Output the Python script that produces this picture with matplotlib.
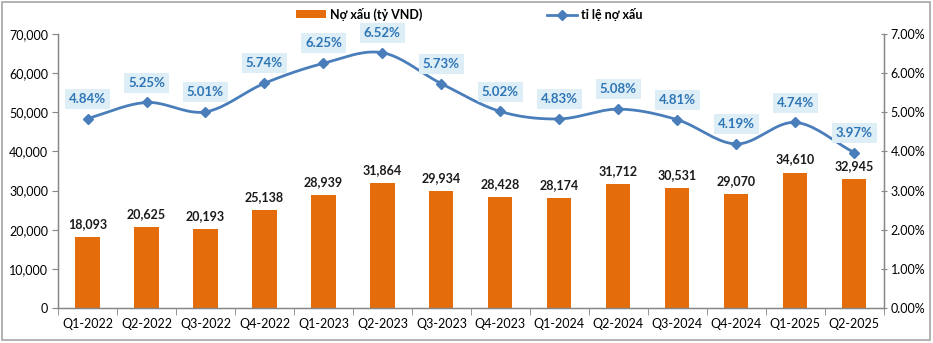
import matplotlib.pyplot as plt
import numpy as np
from matplotlib.lines import Line2D
from matplotlib.patches import Patch, Rectangle
from matplotlib.ticker import FuncFormatter, MultipleLocator

quarters = ["Q1-2022", "Q2-2022", "Q3-2022", "Q4-2022", "Q1-2023", "Q2-2023", "Q3-2023",
            "Q4-2023", "Q1-2024", "Q2-2024", "Q3-2024", "Q4-2024", "Q1-2025", "Q2-2025"]
bad_debt = [18093, 20625, 20193, 25138, 28939, 31864, 29934,
            28428, 28174, 31712, 30531, 29070, 34610, 32945]
bad_debt_ratio = [4.84, 5.25, 5.01, 5.74, 6.25, 6.52, 5.73,
                  5.02, 4.83, 5.08, 4.81, 4.19, 4.74, 3.97]

BAR_COLOR = "#E46C0A"
LINE_COLOR = "#4A7EBB"
LABEL_COLOR = "#2E75B6"
BOX_COLOR = "#DDEEF6"
AXIS_COLOR = "#868686"

plt.rcParams['font.family'] = ['Lato', 'DejaVu Sans']


def smooth_curve(x, y, steps=20):
    # catmull-rom style smoothing, similar to a spreadsheet smoothed line
    x = np.asarray(x, float)
    y = np.asarray(y, float)
    px = np.concatenate([[2 * x[0] - x[1]], x, [2 * x[-1] - x[-2]]])
    py = np.concatenate([[2 * y[0] - y[1]], y, [2 * y[-1] - y[-2]]])
    xs, ys = [], []
    for i in range(1, len(px) - 2):
        t = np.linspace(0, 1, steps, endpoint=False)
        for p, out in ((px, xs), (py, ys)):
            p0, p1, p2, p3 = p[i - 1], p[i], p[i + 1], p[i + 2]
            out.extend(0.5 * ((2 * p1) + (-p0 + p2) * t + (2 * p0 - 5 * p1 + 4 * p2 - p3) * t ** 2
                              + (-p0 + 3 * p1 - 3 * p2 + p3) * t ** 3))
    xs.append(x[-1])
    ys.append(y[-1])
    return np.array(xs), np.array(ys)


def do_plot():
    fig = plt.figure(figsize=(9.33, 3.43), dpi=100)
    ax = fig.add_axes([0.0622, 0.102, 0.885, 0.799])
    ax2 = ax.twinx()

    idx = np.arange(len(quarters))
    ax.bar(idx, bad_debt, width=0.41, color=BAR_COLOR, zorder=2)
    for i, v in zip(idx, bad_debt):
        ax.annotate(f"{v:,}", (i, v), xytext=(0, 5), textcoords="offset points",
                    ha="center", va="bottom", fontsize=9, fontweight="bold", color="#1a1a1a")

    ax.set_ylim(0, 70000)
    ax.set_xlim(-0.5, len(quarters) - 0.5)
    ax.yaxis.set_major_locator(MultipleLocator(10000))
    ax.yaxis.set_major_formatter(FuncFormatter(lambda v, p: f"{int(v):,}"))
    ax.set_xticks(idx)
    ax.set_xticklabels(quarters)
    ax.set_xticks(np.arange(-0.5, len(quarters), 1), minor=True)
    ax.tick_params(axis="x", which="major", length=0, pad=7, labelsize=9)
    ax.tick_params(axis="x", which="minor", length=5, color=AXIS_COLOR)
    ax.tick_params(axis="y", length=4, color=AXIS_COLOR, labelsize=9, pad=3)

    sx, sy = smooth_curve(idx, bad_debt_ratio)
    ax2.plot(sx, sy, color=LINE_COLOR, linewidth=2, zorder=3)
    ax2.plot(idx, bad_debt_ratio, linestyle="none", marker="D", markersize=5.5,
             color=LINE_COLOR, zorder=4)
    for i, v in zip(idx, bad_debt_ratio):
        ax2.annotate(f"{v:.2f}%", (i, v), xytext=(0, 10), textcoords="offset points",
                     ha="center", va="bottom", fontsize=9.5, fontweight="bold", color=LABEL_COLOR,
                     bbox=dict(boxstyle="square,pad=0.3", fc=BOX_COLOR, ec="none"), zorder=5)
    ax2.set_ylim(0, 7)
    ax2.yaxis.set_major_locator(MultipleLocator(1))
    ax2.yaxis.set_major_formatter(FuncFormatter(lambda v, p: f"{v:.2f}%"))
    ax2.tick_params(axis="y", length=4, direction="inout", color=AXIS_COLOR, labelsize=9, pad=3)

    for a in (ax, ax2):
        a.spines["top"].set_visible(False)
        for s in ("left", "right", "bottom"):
            a.spines[s].set_color(AXIS_COLOR)
            a.spines[s].set_linewidth(0.9)

    handles = [Patch(facecolor=BAR_COLOR, edgecolor="none"),
               Line2D([], [], color=LINE_COLOR, linewidth=2, marker="D", markersize=5)]
    fig.legend(handles, ["Nợ xấu (tỷ VND)", "tỉ lệ nợ xấu"], loc="center",
               bbox_to_anchor=(0.503, 0.958), ncol=2, frameon=False, columnspacing=10,
               handlelength=2.4, handleheight=0.6, handletextpad=0.3,
               prop=dict(weight="bold", size=9))

    fig.patches.append(Rectangle((0.002, 0.008), 0.995, 0.986, transform=fig.transFigure,
                                 fill=False, edgecolor="#A6A6A6", linewidth=1.2))

    plt.savefig("out.png", dpi=100)


if __name__ == "__main__":
    do_plot()
